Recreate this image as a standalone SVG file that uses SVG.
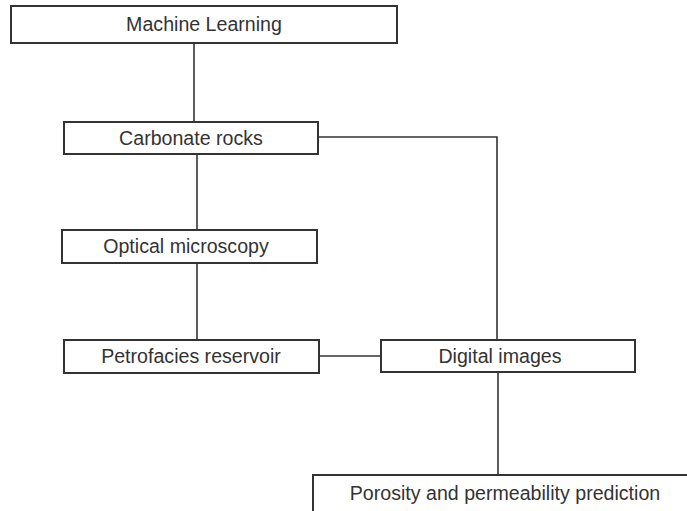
<svg xmlns="http://www.w3.org/2000/svg" width="687" height="511" viewBox="0 0 687 511">
<style>
.box{fill:#fff;stroke:#333;stroke-width:2}
.lbl{font-family:"Liberation Sans",Arial,sans-serif;font-size:19.6px;fill:#333;text-anchor:middle}
.con{fill:none;stroke:#333;stroke-width:1.6}
</style>
<rect width="687" height="511" fill="#fff"/>
<g id="connectors">
<path class="con" d="M194,43 V122"/>
<path class="con" d="M197,154 V230"/>
<path class="con" d="M197,263 V340"/>
<path class="con" d="M318,137 H497 V340"/>
<path class="con" d="M319,356 H381"/>
<path class="con" d="M498,372 V475"/>
</g>
<g id="machine-learning">
<rect class="box" x="11" y="6" width="386" height="37"/>
<text class="lbl" x="204" y="31">Machine Learning</text>
</g>
<g id="carbonate-rocks">
<rect class="box" x="64" y="122" width="254" height="32"/>
<text class="lbl" x="191" y="145">Carbonate rocks</text>
</g>
<g id="optical-microscopy">
<rect class="box" x="62" y="230" width="255" height="33"/>
<text class="lbl" x="186" y="253">Optical microscopy</text>
</g>
<g id="petrofacies-reservoir">
<rect class="box" x="64" y="340" width="255" height="33"/>
<text class="lbl" x="191" y="363">Petrofacies reservoir</text>
</g>
<g id="digital-images">
<rect class="box" x="381" y="340" width="254" height="32"/>
<text class="lbl" x="500" y="363">Digital images</text>
</g>
<g id="porosity-prediction">
<rect class="box" x="313" y="475" width="400" height="60"/>
<text class="lbl" x="505" y="500">Porosity and permeability prediction</text>
</g>
</svg>
